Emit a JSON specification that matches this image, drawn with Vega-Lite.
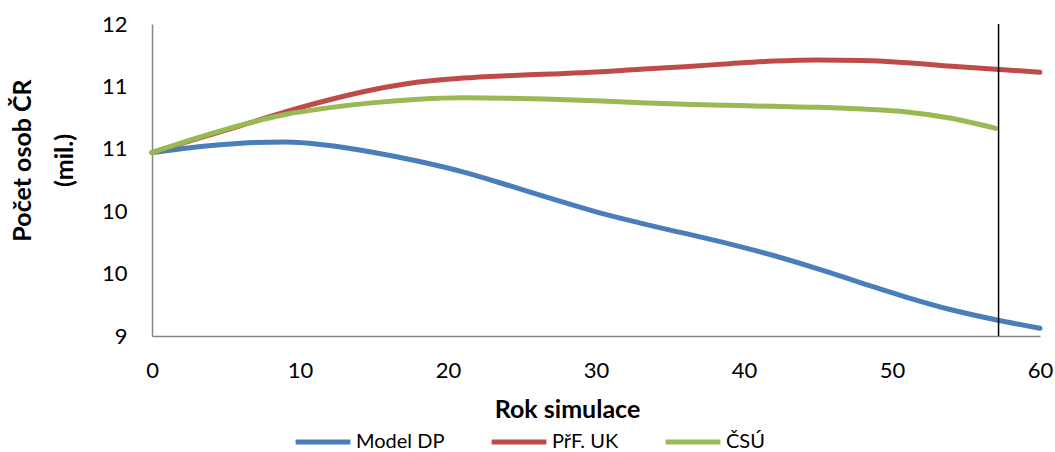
{
  "$schema": "https://vega.github.io/schema/vega-lite/v6.json",
  "width": 888,
  "height": 312,
  "autosize": {"type": "none"},
  "padding": {"left": 152, "top": 24, "right": 15, "bottom": 116},
  "background": "white",
  "config": {
    "font": "Lato",
    "view": {"stroke": null},
    "axis": {"grid": false, "ticks": false, "labelFlush": false, "domainColor": "#868686", "domainWidth": 1.5, "labelFont": "Lato", "labelFontSize": 22, "labelColor": "#000000", "titleFont": "Lato", "titleFontWeight": "bold", "titleColor": "#000000"},
    "legend": {"labelFont": "Lato", "labelFontSize": 20, "labelColor": "#000000"}
  },
  "datasets": {
    "lines": [
      {"year": 0, "series": "Model DP", "value": 10.47},
      {"year": 3, "series": "Model DP", "value": 10.515},
      {"year": 6, "series": "Model DP", "value": 10.545},
      {"year": 9, "series": "Model DP", "value": 10.555},
      {"year": 12, "series": "Model DP", "value": 10.527},
      {"year": 15, "series": "Model DP", "value": 10.47},
      {"year": 18, "series": "Model DP", "value": 10.40},
      {"year": 21, "series": "Model DP", "value": 10.315},
      {"year": 24, "series": "Model DP", "value": 10.21},
      {"year": 27, "series": "Model DP", "value": 10.10},
      {"year": 30, "series": "Model DP", "value": 9.995},
      {"year": 33, "series": "Model DP", "value": 9.905},
      {"year": 36, "series": "Model DP", "value": 9.822},
      {"year": 39, "series": "Model DP", "value": 9.738},
      {"year": 42, "series": "Model DP", "value": 9.645},
      {"year": 45, "series": "Model DP", "value": 9.538},
      {"year": 48, "series": "Model DP", "value": 9.422},
      {"year": 51, "series": "Model DP", "value": 9.31},
      {"year": 54, "series": "Model DP", "value": 9.21},
      {"year": 57, "series": "Model DP", "value": 9.13},
      {"year": 60, "series": "Model DP", "value": 9.062},
      {"year": 0, "series": "PřF. UK", "value": 10.47},
      {"year": 3, "series": "PřF. UK", "value": 10.58},
      {"year": 6, "series": "PřF. UK", "value": 10.685},
      {"year": 9, "series": "PřF. UK", "value": 10.795},
      {"year": 12, "series": "PřF. UK", "value": 10.893},
      {"year": 15, "series": "PřF. UK", "value": 10.975},
      {"year": 18, "series": "PřF. UK", "value": 11.035},
      {"year": 21, "series": "PřF. UK", "value": 11.067},
      {"year": 24, "series": "PřF. UK", "value": 11.086},
      {"year": 27, "series": "PřF. UK", "value": 11.10},
      {"year": 30, "series": "PřF. UK", "value": 11.115},
      {"year": 33, "series": "PřF. UK", "value": 11.138},
      {"year": 36, "series": "PřF. UK", "value": 11.158},
      {"year": 39, "series": "PřF. UK", "value": 11.182},
      {"year": 42, "series": "PřF. UK", "value": 11.203},
      {"year": 45, "series": "PřF. UK", "value": 11.212},
      {"year": 48, "series": "PřF. UK", "value": 11.207},
      {"year": 51, "series": "PřF. UK", "value": 11.19},
      {"year": 54, "series": "PřF. UK", "value": 11.162},
      {"year": 57, "series": "PřF. UK", "value": 11.138},
      {"year": 60, "series": "PřF. UK", "value": 11.113},
      {"year": 0, "series": "ČSÚ", "value": 10.47},
      {"year": 3, "series": "ČSÚ", "value": 10.585},
      {"year": 6, "series": "ČSÚ", "value": 10.69},
      {"year": 9, "series": "ČSÚ", "value": 10.775},
      {"year": 12, "series": "ČSÚ", "value": 10.83},
      {"year": 15, "series": "ČSÚ", "value": 10.87},
      {"year": 18, "series": "ČSÚ", "value": 10.897},
      {"year": 21, "series": "ČSÚ", "value": 10.909},
      {"year": 24, "series": "ČSÚ", "value": 10.906},
      {"year": 27, "series": "ČSÚ", "value": 10.897},
      {"year": 30, "series": "ČSÚ", "value": 10.886},
      {"year": 33, "series": "ČSÚ", "value": 10.869},
      {"year": 36, "series": "ČSÚ", "value": 10.857},
      {"year": 39, "series": "ČSÚ", "value": 10.848},
      {"year": 42, "series": "ČSÚ", "value": 10.84},
      {"year": 45, "series": "ČSÚ", "value": 10.833},
      {"year": 48, "series": "ČSÚ", "value": 10.818},
      {"year": 51, "series": "ČSÚ", "value": 10.795},
      {"year": 54, "series": "ČSÚ", "value": 10.745},
      {"year": 57, "series": "ČSÚ", "value": 10.664}
    ],
    "marker": [{"year": 57.2}]
  },
  "layer": [
    {
      "data": {"name": "lines"},
      "mark": {"type": "line", "strokeWidth": 5, "strokeCap": "round", "interpolate": "monotone"},
      "encoding": {
        "x": {"field": "year", "type": "quantitative", "scale": {"domain": [0, 60], "nice": false}, "axis": {"values": [0, 10, 20, 30, 40, 50, 60], "title": "Rok simulace", "labelPadding": 24, "titleFontSize": 25, "titleBaseline": "alphabetic", "titleX": 415, "titleY": 81}},
        "y": {"field": "value", "type": "quantitative", "scale": {"domain": [9, 11.5], "nice": false, "zero": false}, "axis": {"values": [9, 9.5, 10, 10.5, 11, 11.5], "format": ".0f", "title": ["Počet osob ČR", "(mil.)"], "labelPadding": 25, "titleFontSize": 25, "titleLineHeight": 42, "titleBaseline": "alphabetic", "titleX": -122, "titleY": 136}},
        "color": {"field": "series", "type": "nominal", "sort": ["Model DP", "PřF. UK", "ČSÚ"], "scale": {"domain": ["Model DP", "PřF. UK", "ČSÚ"], "range": ["#4a7ebb", "#be4b48", "#98b954"]}, "legend": {"title": null, "orient": "none", "legendX": 141, "legendY": 388, "direction": "horizontal", "symbolType": "stroke", "symbolSize": 3000, "symbolStrokeWidth": 5, "columnPadding": 36, "labelOffset": 3}}
      }
    },
    {
      "data": {"name": "marker"},
      "mark": {"type": "rule", "color": "#000000", "strokeWidth": 1.5},
      "encoding": {"x": {"field": "year", "type": "quantitative"}}
    }
  ]
}
